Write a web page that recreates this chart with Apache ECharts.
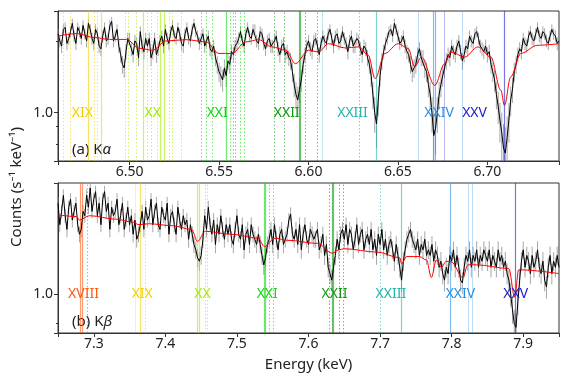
<!DOCTYPE html>
<html>
<head>
<meta charset="utf-8">
<script src="https://cdn.jsdelivr.net/npm/echarts@6/dist/echarts.min.js"></script>
<style>
  html, body { margin: 0; padding: 0; background: #fff; }
  #chart { width: 562px; height: 376px; }
</style>
</head>
<body>
<div id="chart"></div>
<script>
// ---- (a) K-alpha : spectrum bins start at KA_E0, KA_DE keV wide
const KA_E0 = 6.460, KA_DE = 0.001, KA_ERR = 0.25;
const KA_COUNTS = [
  3.1, 2.8, 2.6, 3.3, 3.4, 2.7, 2.9, 3.2, 3.6, 3.0,
  2.7, 3.4, 3.2, 2.9, 3.5, 3.1, 2.8, 3.6, 3.3, 2.9,
  2.7, 3.3, 3.1, 2.6, 2.5, 3.0, 3.4, 2.8, 2.9, 3.5,
  3.7, 2.8, 3.0, 3.3, 2.6, 2.3, 2.0, 1.9, 2.4, 2.9,
  2.9, 2.5, 2.3, 2.8, 2.7, 2.2, 3.2, 2.6, 2.4, 2.9,
  2.6, 2.9, 2.2, 2.4, 2.9, 2.3, 2.5, 2.8, 3.0, 2.6,
  3.3, 2.9, 2.7, 3.2, 3.5, 3.0, 2.9, 3.4, 3.1, 2.7,
  2.6, 3.1, 3.4, 2.9, 2.8, 3.3, 3.6, 3.2, 3.0, 2.7,
  2.9, 3.1, 2.6, 2.8, 3.0, 2.5, 2.4, 2.6, 2.2, 2.0,
  1.8, 1.7, 1.6, 1.9, 1.7, 2.1, 2.0, 2.4, 2.3, 2.6,
  2.7, 2.9, 3.2, 2.8, 2.6, 3.1, 3.4, 3.0, 2.9, 3.3,
  3.3, 2.8, 2.7, 3.2, 3.1, 2.7, 2.5, 2.8, 2.9, 2.6,
  2.6, 2.8, 3.0, 2.5, 2.3, 2.6, 2.7, 2.3, 2.4, 2.2,
  2.1, 1.8, 1.5, 1.3, 1.2, 1.4, 1.6, 2.0, 2.3, 2.6,
  2.8, 2.5, 2.4, 2.8, 2.9, 2.6, 2.3, 2.7, 3.0, 2.8,
  2.7, 3.1, 3.3, 2.9, 2.6, 3.0, 3.1, 2.7, 2.8, 3.2,
  2.9, 2.7, 2.4, 2.8, 3.0, 2.6, 2.6, 2.9, 2.8, 2.5,
  2.3, 2.6, 2.5, 2.2, 2.0, 1.7, 1.3, 1.0, 0.85, 1.2,
  1.7, 2.1, 2.4, 2.7, 2.9, 3.2, 3.3, 3.0, 3.6, 3.3,
  3.0, 2.7, 2.8, 3.0, 2.6, 2.4, 2.3, 2.0, 1.8, 1.9,
  2.0, 2.3, 2.5, 2.2, 2.2, 1.9, 1.8, 1.5, 1.3, 1.0,
  0.72, 0.8, 1.0, 1.3, 1.5, 1.7, 1.9, 2.1, 2.3, 2.2,
  2.6, 2.4, 2.3, 2.6, 2.8, 2.4, 2.1, 2.3, 2.6, 2.5,
  3.0, 2.8, 2.7, 3.1, 3.2, 2.9, 2.6, 2.5, 2.4, 2.6,
  2.3, 2.4, 2.0, 1.8, 1.6, 1.3, 1.1, 0.9, 0.75, 0.6,
  0.56, 0.7, 0.9, 1.2, 1.4, 1.8, 2.0, 2.3, 2.5, 2.4,
  2.9, 2.7, 2.6, 3.0, 3.2, 2.9, 2.8, 3.1, 3.4, 3.0,
  2.9, 3.2, 3.1, 2.8, 2.7, 3.0, 3.3, 3.1, 3.0, 2.7,
  2.8
];
const KA_MODEL_E = [6.460, 6.4704, 6.4804, 6.4888, 6.4982, 6.5055, 6.5127, 6.5205, 6.5316, 6.5427,
  6.550, 6.5572, 6.565, 6.5722, 6.5795, 6.5873, 6.5927, 6.600, 6.6056, 6.6112,
  6.6205, 6.6279, 6.6334, 6.6372, 6.6427, 6.6501, 6.6557, 6.6594, 6.6631, 6.6706,
  6.6761, 6.6796, 6.6873, 6.6947, 6.7019, 6.7075, 6.7095, 6.713, 6.7186, 6.728, 6.740];
const KA_MODEL = [3.00, 3.11, 2.94, 2.86, 2.86, 2.52, 2.45, 2.80, 2.85, 2.76,
  2.34, 2.34, 2.76, 2.85, 2.57, 2.45, 2.02, 2.45, 2.39, 2.69,
  2.53, 2.57, 2.28, 1.63, 2.34, 2.69, 2.51, 1.93, 2.22, 1.48,
  2.02, 2.39, 2.22, 2.57, 2.22, 1.38, 1.11, 1.67, 2.34, 2.63, 2.69];
const KA_IONS = ['XIX', 'XX', 'XXI', 'XXII', 'XXIII', 'XXIV', 'XXV'];
const KA_ION_E = [6.4736, 6.5129, 6.5490, 6.5878, 6.6246, 6.6730, 6.6928];
// transition lines [ion, energy]
const KA_STRONG = [['XIX', 6.4767], ['XIX', 6.4840], ['XX', 6.5079], ['XX', 6.5172], ['XX', 6.5194],
  ['XXI', 6.5543], ['XXII', 6.5948], ['XXII', 6.5955], ['XXIII', 6.6378],
  ['XXIV', 6.6700], ['XXIV', 6.6710], ['XXV', 6.7095]];
const KA_WEAK = [['XXIII', 6.6075], ['XXIV', 6.6613], ['XXV', 6.6761], ['XXIV', 6.6859]];
const KA_DOTTED = [['XIX', 6.4628], ['XIX', 6.4666], ['XIX', 6.4804], ['XIX', 6.4819],
  ['XX', 6.4975], ['XX', 6.4990], ['XX', 6.5036], ['XX', 6.5101], ['XX', 6.5120], ['XX', 6.5153],
  ['XX', 6.5222], ['XX', 6.5240], ['XX', 6.5287],
  ['XXI', 6.5398], ['XXI', 6.5426], ['XXI', 6.5463], ['XXI', 6.5565], ['XXI', 6.5580],
  ['XXI', 6.5593], ['XXI', 6.5621], ['XXI', 6.5639],
  ['XXII', 6.5806], ['XXII', 6.5862], ['XXII', 6.5982], ['XXII', 6.6047], ['XXIII', 6.6283]];

// ---- (b) K-beta
const KB_E0 = 7.250, KB_DE = 0.0025, KB_ERR = 0.08;
const KB_COUNTS = [
  1.85, 1.6, 1.75, 1.95, 1.7, 1.55, 1.8, 1.9,
  1.65, 1.75, 1.85, 1.6, 1.5, 1.55, 1.75, 1.7,
  1.95, 1.8, 2.05, 1.75, 1.9, 2.0, 1.7, 1.85,
  1.6, 1.9, 2.0, 1.75, 1.85, 1.55, 1.8, 1.7,
  1.75, 1.9, 1.6, 1.7, 1.85, 1.55, 1.65, 1.8,
  1.6, 1.7, 1.5, 1.65, 1.45, 1.5, 1.6, 1.75,
  1.55, 1.8, 1.65, 1.7, 1.9, 1.6, 1.75, 1.85,
  1.6, 1.55, 1.8, 1.7, 1.65, 1.85, 1.5, 1.7,
  1.75, 1.6, 1.5, 1.8, 1.65, 1.55, 1.7, 1.6,
  1.65, 1.45, 1.6, 1.5, 1.4, 1.35, 1.28, 1.25,
  1.3, 1.45, 1.7, 1.55, 1.8, 1.6, 1.5, 1.65,
  1.4, 1.6, 1.5, 1.7, 1.55, 1.45, 1.6, 1.5,
  1.6, 1.45, 1.4, 1.55, 1.7, 1.5, 1.45, 1.6,
  1.35, 1.5, 1.55, 1.4, 1.6, 1.5, 1.45, 1.4,
  1.5, 1.4, 1.3, 1.22, 1.28, 1.4, 1.45, 1.55,
  1.4, 1.6, 1.45, 1.35, 1.5, 1.55, 1.4, 1.45,
  1.5, 1.65, 1.72, 1.5, 1.45, 1.55, 1.4, 1.6,
  1.35, 1.5, 1.6, 1.45, 1.4, 1.55, 1.5, 1.45,
  1.45, 1.55, 1.35, 1.4, 1.5, 1.3, 1.4, 1.2,
  1.15, 1.1, 1.2, 1.3, 1.45, 1.35, 1.5, 1.55,
  1.45, 1.6, 1.4, 1.55, 1.5, 1.35, 1.45, 1.6,
  1.4, 1.5, 1.55, 1.35, 1.45, 1.5, 1.4, 1.55,
  1.35, 1.45, 1.3, 1.5, 1.4, 1.55, 1.35, 1.45,
  1.3, 1.4, 1.45, 1.35, 1.25, 1.4, 1.3, 1.2,
  1.1, 1.25, 1.35, 1.45, 1.5, 1.55, 1.45, 1.4,
  1.35, 1.45, 1.3, 1.4, 1.35, 1.45, 1.3, 1.35,
  1.3, 1.4, 1.25, 1.35, 1.3, 1.2, 1.25, 1.15,
  1.1, 1.2, 1.15, 1.3, 1.25, 1.35, 1.2, 1.3,
  1.2, 1.1, 1.08, 1.2, 1.3, 1.25, 1.35, 1.2,
  1.3, 1.25, 1.35, 1.2, 1.3, 1.25, 1.35, 1.3,
  1.25, 1.35, 1.2, 1.3, 1.25, 1.2, 1.35, 1.25,
  1.3, 1.2, 1.25, 1.15, 1.1, 1.0, 0.9, 0.82,
  0.8, 0.95, 1.1, 1.25, 1.35, 1.2, 1.3, 1.25,
  1.15, 1.3, 1.2, 1.25, 1.35, 1.2, 1.15, 1.25,
  1.1, 1.05, 1.2, 1.3, 1.15, 1.25, 1.2, 1.3,
  1.2
];
const KB_MODEL_E = [7.250, 7.2759, 7.280, 7.2939, 7.3313, 7.3535, 7.3632, 7.377, 7.4089, 7.4366,
  7.4449, 7.456, 7.492, 7.5294, 7.5386, 7.553, 7.571, 7.6125, 7.6333, 7.6425,
  7.6495, 7.6956, 7.7274, 7.7302, 7.7371, 7.7551, 7.7648, 7.7717, 7.7786, 7.7856,
  7.7925, 7.7994, 7.8157, 7.8226, 7.8341, 7.8798, 7.8881, 7.8937, 7.950];
const KB_MODEL = [1.71, 1.69, 1.65, 1.70, 1.66, 1.63, 1.60, 1.61, 1.59, 1.55,
  1.43, 1.53, 1.50, 1.46, 1.38, 1.46, 1.44, 1.41, 1.32, 1.35,
  1.36, 1.33, 1.28, 1.23, 1.29, 1.29, 1.26, 1.12, 1.26, 1.20,
  1.25, 1.245, 1.12, 1.22, 1.22, 1.19, 0.98, 1.18, 1.15];
const KB_IONS = ['XVIII', 'XIX', 'XX', 'XXI', 'XXII', 'XXIII', 'XXIV', 'XXV'];
const KB_ION_E = [7.2856, 7.3677, 7.4518, 7.5423, 7.6364, 7.7150, 7.8123, 7.8895];
const KB_STRONG = [['XVIII', 7.2814], ['XVIII', 7.2838], ['XIX', 7.3655], ['XX', 7.4449], ['XX', 7.4477],
  ['XXI', 7.5386], ['XXI', 7.5400], ['XXII', 7.6333], ['XXII', 7.6347], ['XXIII', 7.7302],
  ['XXIV', 7.7985], ['XXV', 7.8895]];
const KB_WEAK = [['XIX', 7.3576], ['XXIV', 7.8226], ['XXIV', 7.8281]];
const KB_DOTTED = [['XVIII', 7.2902], ['XIX', 7.3724], ['XX', 7.4555], ['XX', 7.4587],
  ['XXI', 7.5456], ['XXI', 7.5501], ['XXII', 7.6287], ['XXII', 7.6425], ['XXII', 7.6485], ['XXIII', 7.7002]];

const ION_COLOR = {
  XVIII: '#ff5a14', XIX: '#f5d000', XX: '#a2ee00', XXI: '#12d812', XXII: '#119a11',
  XXIII: '#22b5a8', XXIV: '#2a8fe4', XXV: '#1a1acc'
};
const FONT = 'Noto Sans';

const chart = echarts.init(document.getElementById('chart'), null, { renderer: 'canvas' });

// spectrum bins -> [energy, counts]
const bins = (e0, de, counts) => counts.map((c, i) => [+(e0 + de * i).toFixed(4), c]);
const pairs = (xs, ys) => xs.map((x, i) => [x, ys[i]]);

const lineMarks = (strong, weak, dotted) => [
  ...strong.map(([ion, e]) => ({ xAxis: e, lineStyle: { color: ION_COLOR[ion], type: 'solid', width: 1.2, opacity: 0.6 } })),
  ...weak.map(([ion, e]) => ({ xAxis: e, lineStyle: { color: ION_COLOR[ion], type: 'solid', width: 1, opacity: 0.3 } })),
  ...dotted.map(([ion, e]) => ({ xAxis: e, lineStyle: { color: ION_COLOR[ion], type: [1.5, 2], width: 1, opacity: 0.6 } }))
];

const ionLabels = (ions, es) => ions.map((ion, i) => ({
  value: [es[i], 1.0], name: ion,
  label: { color: ION_COLOR[ion] }
}));

const xAxisBase = {
  type: 'value',
  splitLine: { show: false },
  axisLine: { show: true, onZero: false, lineStyle: { color: '#333', width: 1 } },
  axisTick: { show: true, length: 4, lineStyle: { color: '#333' } },
  axisLabel: { color: '#222', fontSize: 14, fontFamily: FONT, margin: 4 }
};
const yAxisBase = {
  type: 'log', logBase: 10,
  splitLine: { show: false },
  axisLine: { show: true, lineStyle: { color: '#333', width: 1 } },
  axisTick: { show: true, length: 4, lineStyle: { color: '#333' } },
  minorTick: { show: true, splitNumber: 5, length: 2, lineStyle: { color: '#333' } },
  axisLabel: {
    color: '#222', fontSize: 14, fontFamily: FONT, margin: 5,
    formatter: (v) => (Math.abs(v - 1) < 1e-6 ? '1.0' : '')
  }
};

// grey error bars + black spectrum
const spectrum = (idx, data, err) => [
  {
    type: 'custom', xAxisIndex: idx, yAxisIndex: idx, data, z: 4, silent: true, clip: true,
    renderItem: (params, api) => {
      const e = api.value(0), c = api.value(1);
      const hi = api.coord([e, c + err]), lo = api.coord([e, c - err]);
      return {
        type: 'line',
        shape: { x1: hi[0], y1: hi[1], x2: lo[0], y2: lo[1] },
        style: { stroke: '#8a8a8a', lineWidth: 1, opacity: 0.75 }
      };
    }
  },
  {
    type: 'line', xAxisIndex: idx, yAxisIndex: idx, data, showSymbol: false, z: 5,
    lineStyle: { color: '#000', width: 1 }, silent: true
  }
];

const markLineOf = (idx, strong, weak, dotted) => ({
  type: 'line', xAxisIndex: idx, yAxisIndex: idx, data: [], z: 1, silent: true,
  markLine: {
    silent: true, symbol: 'none', precision: 4, label: { show: false }, animation: false,
    data: lineMarks(strong, weak, dotted)
  }
});

const labelSeries = (idx, ions, es) => ({
  type: 'scatter', xAxisIndex: idx, yAxisIndex: idx, symbolSize: 0, z: 7, silent: true,
  data: ionLabels(ions, es),
  label: {
    show: true, position: 'inside', formatter: '{b}', fontSize: 14, fontFamily: FONT,
    textBorderWidth: 0, textShadowBlur: 0, opacity: 1
  },
  itemStyle: { opacity: 1 }
});

const option = {
  animation: false,
  backgroundColor: '#fff',
  grid: [
    { left: 58, top: 11, width: 503, height: 150, show: true, borderColor: '#333', borderWidth: 1 },
    { left: 58, top: 183, width: 503, height: 150, show: true, borderColor: '#333', borderWidth: 1 }
  ],
  xAxis: [
    {
      ...xAxisBase, gridIndex: 0, min: 6.46, max: 6.74, minInterval: 0.05, maxInterval: 0.05,
      axisLabel: { ...xAxisBase.axisLabel, formatter: (v) => (Math.abs(v / 0.05 - Math.round(v / 0.05)) > 1e-6 ? '' : v.toFixed(2)) }
    },
    {
      ...xAxisBase, gridIndex: 1, min: 7.25, max: 7.95, minInterval: 0.1, maxInterval: 0.1,
      axisLabel: { ...xAxisBase.axisLabel, formatter: (v) => (Math.abs(v / 0.1 - Math.round(v / 0.1)) > 1e-6 ? '' : v.toFixed(1)) },
      name: 'Energy (keV)', nameLocation: 'middle', nameGap: 24,
      nameTextStyle: { color: '#222', fontSize: 15, fontFamily: FONT }
    }
  ],
  yAxis: [
    { ...yAxisBase, gridIndex: 0, min: 0.5, max: 4.3 },
    { ...yAxisBase, gridIndex: 1, min: 0.77, max: 2.12 }
  ],
  series: [
    markLineOf(0, KA_STRONG, KA_WEAK, KA_DOTTED),
    markLineOf(1, KB_STRONG, KB_WEAK, KB_DOTTED),
    ...spectrum(0, bins(KA_E0, KA_DE, KA_COUNTS), KA_ERR),
    ...spectrum(1, bins(KB_E0, KB_DE, KB_COUNTS), KB_ERR),
    {
      type: 'line', xAxisIndex: 0, yAxisIndex: 0, data: pairs(KA_MODEL_E, KA_MODEL),
      showSymbol: false, smooth: 0.35, smoothMonotone: 'x', z: 6, silent: true,
      lineStyle: { color: '#ff0000', width: 1 }
    },
    {
      type: 'line', xAxisIndex: 1, yAxisIndex: 1, data: pairs(KB_MODEL_E, KB_MODEL),
      showSymbol: false, smooth: 0.35, smoothMonotone: 'x', z: 6, silent: true,
      lineStyle: { color: '#ff0000', width: 1 }
    },
    labelSeries(0, KA_IONS, KA_ION_E),
    labelSeries(1, KB_IONS, KB_ION_E)
  ],
  graphic: [
    {
      type: 'text', x: 17, y: 187, rotation: Math.PI / 2,
      style: { text: 'Counts (s⁻¹ keV⁻¹)', fill: '#222', font: '15px "Noto Sans"', align: 'center', verticalAlign: 'middle' }
    },
    {
      type: 'text', x: 72, y: 150,
      style: { text: '(a) K{i|α}', fill: '#222', font: '15px "Noto Sans"', verticalAlign: 'middle',
        rich: { i: { fontStyle: 'italic', fontSize: 15, fontFamily: FONT } } }
    },
    {
      type: 'text', x: 72, y: 322,
      style: { text: '(b) K{i|β}', fill: '#222', font: '15px "Noto Sans"', verticalAlign: 'middle',
        rich: { i: { fontStyle: 'italic', fontSize: 15, fontFamily: FONT } } }
    }
  ]
};

chart.setOption(option);
</script>
</body>
</html>
